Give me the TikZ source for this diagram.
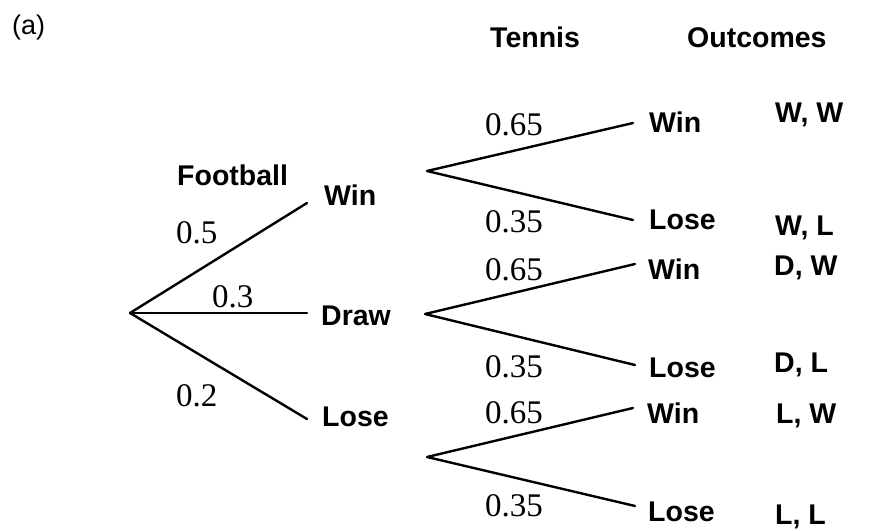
\documentclass[tikz,border=0pt]{standalone}
\usepackage{fontspec}
\setmainfont{Liberation Serif}
\setsansfont{Liberation Sans}
\begin{document}
\begin{tikzpicture}[x=1pt,y=-1pt,
  lab/.style={anchor=base west,inner sep=0pt,font=\sffamily\bfseries\fontsize{28.5}{32}\selectfont},
  prob/.style={anchor=base west,inner sep=0pt,font=\rmfamily\fontsize{33}{38}\selectfont},
  branch/.style={line width=2.4pt,line cap=round,line join=round}]
\useasboundingbox (0,0) rectangle (886,530);
% headers
\node[anchor=base west,inner sep=0pt,font=\sffamily\fontsize{27}{31}\selectfont] (tag) at (12,34) {(a)};
\node[lab] (hT) at (490,47) {Tennis};
\node[lab] (hO) at (687,47) {Outcomes};
\node[lab] (hF) at (177,185) {Football};
% football
\coordinate (root) at (130,313);
\coordinate (fW) at (307,203);
\coordinate (fD) at (307,313);
\coordinate (fL) at (307,419);
\draw[branch] (root) -- (fW);
\draw[branch] (root) -- (fD);
\draw[branch] (root) -- (fL);
\node[lab] (nfW) at (324,205) {Win};
\node[lab] (nfD) at (321,325) {Draw};
\node[lab] (nfL) at (322,426) {Lose};
\node[prob] (p1) at (176,243) {0.5};
\node[prob] (p2) at (212,307) {0.3};
\node[prob] (p3) at (176,406) {0.2};
% tennis forks
\coordinate (k1) at (427,171);
\coordinate (k2) at (425,314);
\coordinate (k3) at (427,457);
\coordinate (e1) at (633,123);
\coordinate (e2) at (633,220);
\coordinate (e3) at (635,264);
\coordinate (e4) at (635,365);
\coordinate (e5) at (633,408);
\coordinate (e6) at (635,506);
\draw[branch] (e1) -- (k1) -- (e2);
\draw[branch] (e3) -- (k2) -- (e4);
\draw[branch] (e5) -- (k3) -- (e6);
\node[prob] (q1) at (485,135) {0.65};
\node[prob] (q2) at (485,232) {0.35};
\node[prob] (q3) at (485,280) {0.65};
\node[prob] (q4) at (485,377) {0.35};
\node[prob] (q5) at (485,423) {0.65};
\node[prob] (q6) at (485,516) {0.35};
\node[lab] (t1) at (649,132) {Win};
\node[lab] (t2) at (649,229) {Lose};
\node[lab] (t3) at (648,279) {Win};
\node[lab] (t4) at (649,377) {Lose};
\node[lab] (t5) at (647,423) {Win};
\node[lab] (t6) at (648,521) {Lose};
% outcomes
\node[lab] (o1) at (775,122) {W, W};
\node[lab] (o2) at (775,235) {W, L};
\node[lab] (o3) at (774,275) {D, W};
\node[lab] (o4) at (774,372) {D, L};
\node[lab] (o5) at (776,423) {L, W};
\node[lab] (o6) at (775,524) {L, L};
\end{tikzpicture}
\end{document}
